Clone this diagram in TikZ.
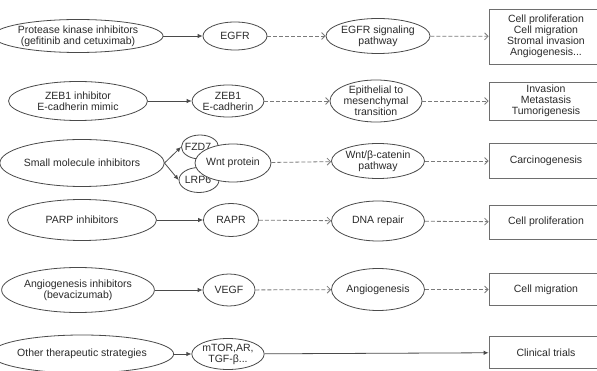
\documentclass[tikz,border=0pt]{standalone}
\usepackage{fontspec}
\setmainfont{Liberation Sans}
\usetikzlibrary{shapes.geometric,arrows.meta}
\definecolor{ink}{HTML}{2A2A2A}
\definecolor{edge}{HTML}{4A4A4A}
\definecolor{dash}{HTML}{7A7A7A}
\tikzset{
  oval/.style={ellipse,draw=edge,line width=0.8pt,fill=white,inner sep=0pt,align=center,text=ink,
    font=\fontsize{10.5}{11}\selectfont},
  outbox/.style={rectangle,draw=edge!80,line width=0.8pt,fill=white,inner sep=0pt,align=center,text=ink,
    font=\fontsize{10.5}{11}\selectfont},
  solidarrow/.style={draw=edge,line width=0.8pt,-{Latex[length=5pt,width=4.5pt]}},
  dasharrow/.style={draw=dash,line width=0.8pt,dash pattern=on 4pt off 2pt,-{Straight Barb[length=3.5pt,width=7pt]}},
}
\begin{document}
\begin{tikzpicture}[x=1pt,y=-1pt]
\useasboundingbox (0,0) rectangle (597,371);
\clip (0,0) rectangle (597,371);
% Row 1
\node[oval,minimum width=140pt,minimum height=33pt] (L1) at (78,36) {Protease kinase inhibitors\\(gefitinib and cetuximab)};
\node[oval,minimum width=64pt,minimum height=28pt] (T1) at (235,36) {EGFR};
\node[oval,minimum width=95pt,minimum height=35pt] (P1) at (378,36) {EGFR signaling\\pathway};
\node[outbox,minimum width=114pt,minimum height=55pt] (B1) at (546,36.5) {Cell proliferation\\Cell migration\\Stromal invasion\\Angiogenesis...};
% Row 2
\node[oval,minimum width=139pt,minimum height=39pt] (L2) at (78,101) {ZEB1 inhibitor\\E-cadherin mimic};
\node[oval,minimum width=50pt,minimum height=32pt] (T2) at (228,101) {ZEB1\\E-cadherin};
\node[oval,minimum width=92pt,minimum height=36pt] (P2) at (376,101) {Epithelial to\\mesenchymal\\transition};
\node[outbox,minimum width=114pt,minimum height=38pt] (B2) at (546,101) {Invasion\\Metastasis\\Tumorigenesis};
% Row 3
\node[oval,minimum width=149pt,minimum height=47pt] (L3) at (82,163) {Small molecule inhibitors};
\node[oval,minimum width=36pt,minimum height=24pt,anchor=center] (F3) at (200,147) {\hspace*{-2pt}FZD7\hspace*{2pt}};
\node[oval,minimum width=35pt,minimum height=25pt] (R3) at (199,180) {LRP6\hspace*{2pt}};
\node[oval,minimum width=67pt,minimum height=38pt] (T3) at (233,163) {Wnt protein};
\node[oval,minimum width=93pt,minimum height=35pt] (P3) at (378,161) {Wnt/β-catenin\\pathway};
\node[outbox,minimum width=114pt,minimum height=35pt] (B3) at (546,161) {Carcinogenesis};
% Row 4
\node[oval,minimum width=149pt,minimum height=41pt] (L4) at (82,220) {PARP inhibitors};
\node[oval,minimum width=55pt,minimum height=33pt] (T4) at (231,220) {RAPR};
\node[oval,minimum width=93pt,minimum height=40pt] (P4) at (378,221) {DNA repair};
\node[outbox,minimum width=114pt,minimum height=34pt] (B4) at (546,222) {Cell proliferation};
% Row 5
\node[oval,minimum width=139pt,minimum height=45pt] (L5) at (78,290) {Angiogenesis inhibitors\\(bevacizumab)};
\node[oval,minimum width=52pt,minimum height=32pt] (T5) at (229,290) {VEGF};
\node[oval,minimum width=93pt,minimum height=42pt] (P5) at (378,289.5) {Angiogenesis};
\node[outbox,minimum width=114pt,minimum height=32pt] (B5) at (546,289.5) {Cell migration};
% Row 6
\node[oval,minimum width=150pt,minimum height=38pt] (L6) at (82,354) {Other therapeutic strategies};
\node[oval,minimum width=60pt,minimum height=31pt] (T6) at (228,354) {mTOR,AR,\\TGF-β...};
\node[outbox,minimum width=114pt,minimum height=32pt] (B6) at (546,352.5) {Clinical trials};
% connectors
\draw[solidarrow] (L1) -- (T1);
\draw[dasharrow] (T1) -- (P1);
\draw[dasharrow] (P1) -- (B1);
\draw[solidarrow] (L2) -- (T2);
\draw[dasharrow] (T2) -- (P2);
\draw[dasharrow] (P2) -- (B2);
\draw[solidarrow] (L3.east) -- (F3.west);
\draw[solidarrow] (L3.east) -- (R3.west);
\draw[dasharrow] (T3) -- (P3);
\draw[dasharrow] (P3) -- (B3);
\draw[solidarrow] (L4) -- (T4);
\draw[dasharrow] (T4) -- (P4);
\draw[dasharrow] (P4) -- (B4);
\draw[solidarrow] (L5) -- (T5);
\draw[dasharrow] (T5) -- (P5);
\draw[dasharrow] (P5) -- (B5);
\draw[solidarrow] (L6) -- (T6);
\draw[solidarrow] (T6) -- (B6);
\end{tikzpicture}
\end{document}
